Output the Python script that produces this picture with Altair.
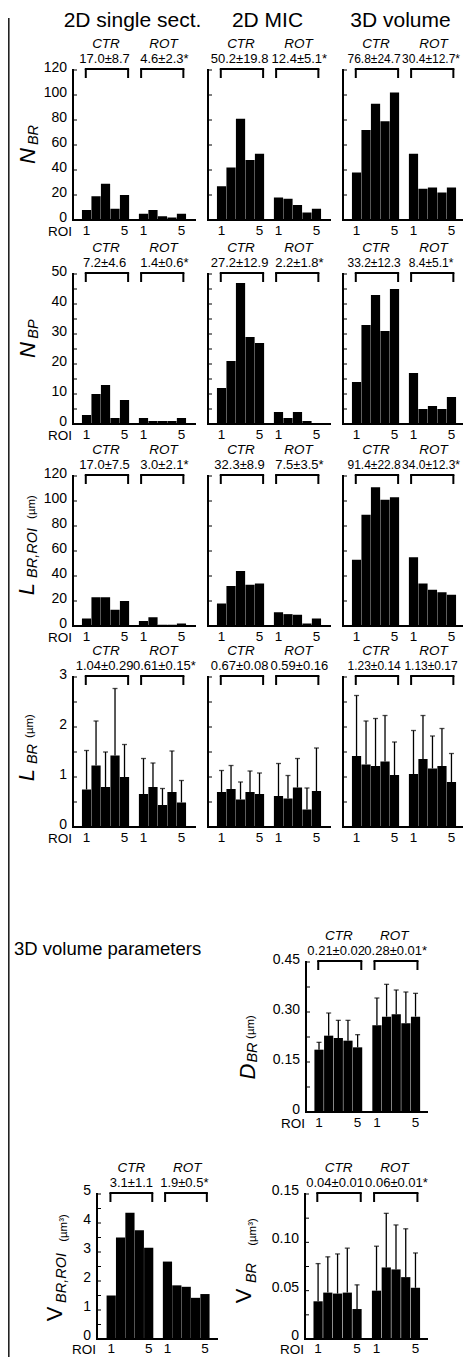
import altair as alt
import pandas as pd

FONT = "Liberation Sans"

# ------------------------------------------------------------------ data
col_titles = ["2D single sect.", "2D MIC", "3D volume"]
section_title = "3D volume parameters"
group_names = ["CTR", "ROT"]
roi_ctr = [1, 2, 3, 4, 5]
roi_rot = [7, 8, 9, 10, 11]          # ROT bars follow after one empty slot
roi_ticks = [1, 5, 7, 11]
roi_tick_labels = ["1", "5", "1", "5"]

# N_BR
nbr_2d_ctr = [8, 19, 29, 9, 20]
nbr_2d_rot = [5, 8, 3, 2, 5]
nbr_mic_ctr = [27, 42, 81, 48, 53]
nbr_mic_rot = [18, 17, 12, 6, 9]
nbr_3d_ctr = [38, 72, 93, 79, 102]
nbr_3d_rot = [53, 25, 26, 22, 26]
nbr_stats = [["17.0±8.7", "4.6±2.3*"], ["50.2±19.8", "12.4±5.1*"], ["76.8±24.7", "30.4±12.7*"]]

# N_BP
nbp_2d_ctr = [3, 10, 13, 2, 8]
nbp_2d_rot = [2, 1, 1, 1, 2]
nbp_mic_ctr = [12, 21, 47, 29, 27]
nbp_mic_rot = [4, 2, 4, 1, 0]
nbp_3d_ctr = [14, 33, 43, 31, 45]
nbp_3d_rot = [17, 5, 6, 5, 9]
nbp_stats = [["7.2±4.6", "1.4±0.6*"], ["27.2±12.9", "2.2±1.8*"], ["33.2±12.3", "8.4±5.1*"]]

# L_BR,ROI (um)
lroi_2d_ctr = [6, 23, 23, 13, 20]
lroi_2d_rot = [4, 7, 1, 1, 2]
lroi_mic_ctr = [18, 32, 44, 33, 34]
lroi_mic_rot = [11, 9.5, 9, 2, 6]
lroi_3d_ctr = [53, 89, 111, 101, 103]
lroi_3d_rot = [55, 34, 29, 27, 25]
lroi_stats = [["17.0±7.5", "3.0±2.1*"], ["32.3±8.9", "7.5±3.5*"], ["91.4±22.8", "34.0±12.3*"]]

# L_BR (um): mean and mean+SD
lbr_2d_ctr = [0.75, 1.23, 0.80, 1.43, 1.00]
lbr_2d_ctr_sd = [1.53, 2.12, 1.50, 2.77, 1.65]
lbr_2d_rot = [0.66, 0.80, 0.44, 0.70, 0.49]
lbr_2d_rot_sd = [1.37, 1.28, 0.77, 1.52, 0.93]
lbr_mic_ctr = [0.70, 0.76, 0.55, 0.70, 0.66]
lbr_mic_ctr_sd = [1.13, 1.23, 0.90, 1.12, 1.08]
lbr_mic_rot = [0.62, 0.57, 0.79, 0.35, 0.72]
lbr_mic_rot_sd = [1.27, 1.03, 1.37, 0.78, 1.58]
lbr_3d_ctr = [1.42, 1.25, 1.22, 1.31, 1.04]
lbr_3d_ctr_sd = [2.63, 2.12, 2.17, 2.23, 1.70]
lbr_3d_rot = [1.06, 1.36, 1.17, 1.22, 0.90]
lbr_3d_rot_sd = [1.93, 2.23, 1.82, 1.97, 1.47]
lbr_stats = [["1.04±0.29", "0.61±0.15*"], ["0.67±0.08", "0.59±0.16"], ["1.23±0.14", "1.13±0.17"]]

# D_BR (um)
dbr_ctr = [0.187, 0.229, 0.222, 0.214, 0.194]
dbr_ctr_sd = [0.209, 0.297, 0.275, 0.275, 0.232]
dbr_rot = [0.260, 0.286, 0.293, 0.266, 0.286]
dbr_rot_sd = [0.342, 0.383, 0.366, 0.360, 0.356]
dbr_stats = ["0.21±0.02", "0.28±0.01*"]

# V_BR,ROI (um3)
vroi_ctr = [1.5, 3.5, 4.35, 3.75, 3.15]
vroi_rot = [2.67, 1.85, 1.8, 1.42, 1.55]
vroi_stats = ["3.1±1.1", "1.9±0.5*"]

# V_BR (um3)
vbr_ctr = [0.039, 0.048, 0.047, 0.048, 0.031]
vbr_ctr_sd = [0.078, 0.085, 0.088, 0.094, 0.056]
vbr_rot = [0.050, 0.074, 0.072, 0.064, 0.053]
vbr_rot_sd = [0.096, 0.130, 0.118, 0.114, 0.089]
vbr_stats = ["0.04±0.01", "0.06±0.01*"]

# y-axis labels and tick marks
lab_120 = [0, 20, 40, 60, 80, 100, 120]
lab_120_txt = ["0", "20", "40", "60", "80", "100", "120"]
tick_120 = [0, 20, 40, 60, 80, 100, 120]
lab_50 = [0, 10, 20, 30, 40, 50]
lab_50_txt = ["0", "10", "20", "30", "40", "50"]
tick_50 = [0, 5, 10, 15, 20, 25, 30, 35, 40, 45, 50]
lab_3 = [0, 1, 2, 3]
lab_3_txt = ["0", "1", "2", "3"]
tick_3 = [0, 0.5, 1, 1.5, 2, 2.5, 3]
lab_045 = [0, 0.15, 0.30, 0.45]
lab_045_txt = ["0", "0.15", "0.30", "0.45"]
tick_045 = [0, 0.075, 0.15, 0.225, 0.30, 0.375, 0.45]
lab_5 = [0, 1, 2, 3, 4, 5]
lab_5_txt = ["0", "1", "2", "3", "4", "5"]
tick_5 = [0, 0.5, 1, 1.5, 2, 2.5, 3, 3.5, 4, 4.5, 5]
lab_015 = [0, 0.05, 0.10, 0.15]
lab_015_txt = ["0", "0.05", "0.10", "0.15"]
tick_015 = [0, 0.025, 0.05, 0.075, 0.10, 0.125, 0.15]

# ------------------------------------------------------------------ layout
M = 8                      # page margin: group coords = picture coords - 8
W_ALL, H_ALL = 455, 1349   # keeps the page inside the 471x1365 window
BR_CTR = [0.92, 5.38]
BR_ROT = [6.75, 11.2]
FS = 14


def panel(ctr, rot, ctr_sd, rot_sd, stats, left, top, w, h, xdom,
          ymax, ylab, ylab_txt, ytick, show_lab, show_roi,
          name_x=(3.05, 9.1), stat_x=(2.9, 9.2), stat_fs=13,
          xlab_gap=11, roi_gap=11.5, lab_dy=-2.5):
    gx, gt = left - M, top - M
    gb = gt + h
    xs = alt.Scale(domain=xdom, range=[gx, gx + w], nice=False, zero=False)
    ys = alt.Scale(domain=[0, ymax], range=[gb, gt], nice=False, zero=False)
    d = {"pos": roi_ctr + roi_rot, "v": ctr + rot}
    if ctr_sd is not None:
        d["e"] = ctr_sd + rot_sd
    df = pd.DataFrame(d)

    layers = [
        alt.Chart(df).mark_bar(color="black", size=9.2, orient="vertical").encode(
            x=alt.X("pos:Q", scale=xs, axis=None),
            y=alt.Y("v:Q", scale=ys, axis=None),
            y2=alt.datum(0),
        )
    ]
    if ctr_sd is not None:
        layers.append(alt.Chart(df).mark_rule(color="black", strokeWidth=1.3).encode(
            x=alt.X("pos:Q", scale=xs, axis=None),
            y=alt.Y("v:Q", scale=ys, axis=None), y2="e:Q"))
        layers.append(alt.Chart(df).mark_tick(color="black", orient="horizontal",
                                              size=5, thickness=1.3).encode(
            x=alt.X("pos:Q", scale=xs, axis=None),
            y=alt.Y("e:Q", scale=ys, axis=None)))
    # axis lines
    one = pd.DataFrame({"k": [0]})
    layers.append(alt.Chart(one).mark_rule(color="black", strokeWidth=2, strokeCap="square").encode(
        x=alt.value(gx), y=alt.value(gt), y2=alt.value(gb)))
    layers.append(alt.Chart(one).mark_rule(color="black", strokeWidth=2, strokeCap="square").encode(
        x=alt.value(gx), x2=alt.value(gx + w), y=alt.value(gb)))
    # inward y ticks
    layers.append(alt.Chart(pd.DataFrame({"t": ytick})).mark_rule(color="black", strokeWidth=1).encode(
        y=alt.Y("t:Q", scale=ys, axis=None), x=alt.value(gx), x2=alt.value(gx + 4)))
    # y tick labels
    if show_lab:
        layers.append(alt.Chart(pd.DataFrame({"t": ylab, "s": ylab_txt})).mark_text(
            font=FONT, fontSize=FS, align="right", baseline="middle", dy=lab_dy,
            color="black").encode(
            y=alt.Y("t:Q", scale=ys, axis=None), x=alt.value(gx - 6), text="s:N"))
    # x tick labels
    layers.append(alt.Chart(pd.DataFrame({"p": roi_ticks, "s": roi_tick_labels})).mark_text(
        font=FONT, fontSize=13.5, baseline="middle", color="black").encode(
        x=alt.X("p:Q", scale=xs, axis=None), y=alt.value(gb + xlab_gap), text="s:N"))
    # brackets
    bdf = pd.DataFrame({"b0": [BR_CTR[0], BR_ROT[0]], "b1": [BR_CTR[1], BR_ROT[1]]})
    layers.append(alt.Chart(bdf).mark_rule(color="black", strokeWidth=2, strokeCap="square").encode(
        x=alt.X("b0:Q", scale=xs, axis=None), x2="b1:Q", y=alt.value(gt - 1)))
    edf = pd.DataFrame({"bx": BR_CTR + BR_ROT})
    layers.append(alt.Chart(edf).mark_rule(color="black", strokeWidth=2).encode(
        x=alt.X("bx:Q", scale=xs, axis=None), y=alt.value(gt - 1), y2=alt.value(gt + 8)))
    tdf = pd.DataFrame({"nx": list(name_x), "sx": list(stat_x), "grp": group_names,
                        "stat": list(stats)})
    layers.append(alt.Chart(tdf).mark_text(font=FONT, fontSize=13.5, fontStyle="italic",
                                           color="black").encode(
        x=alt.X("nx:Q", scale=xs, axis=None), y=alt.value(gt - 26), text="grp:N"))
    layers.append(alt.Chart(tdf).mark_text(font=FONT, fontSize=stat_fs, color="black").encode(
        x=alt.X("sx:Q", scale=xs, axis=None), y=alt.value(gt - 11), text="stat:N"))
    if show_roi:
        layers.append(alt.Chart(pd.DataFrame({"s": ["ROI"]})).mark_text(
            font=FONT, fontSize=13.5, align="right", baseline="middle", color="black").encode(
            x=alt.value(gx - 1), y=alt.value(gb + roi_gap), text="s:N"))
    return alt.layer(*layers)


def ytitle(pieces):
    out = []
    for txt, x, y, size, italic in pieces:
        mk = dict(font=FONT, fontSize=size, angle=270, align="center", baseline="middle",
                  color="black")
        if italic:
            mk["fontStyle"] = "italic"
        out.append(alt.Chart(pd.DataFrame({"s": [txt]})).mark_text(**mk).encode(
            x=alt.value(x - M), y=alt.value(y - M), text="s:N"))
    return out


LEFTS = [73, 208, 343]
TOPS = [70, 274, 476, 677]
PW, PH = 122, 150
XDOM_TOP = [0.1, 11.9]
XDOM_BOT = [0.17, 11.67]
COL_STAT_X = [(2.9, 9.2), (2.9, 9.2), (2.85, 8.85)]
COL_STAT_FS = [13, 13, 12]

rows = [
    ([(nbr_2d_ctr, nbr_2d_rot, None, None), (nbr_mic_ctr, nbr_mic_rot, None, None),
      (nbr_3d_ctr, nbr_3d_rot, None, None)], nbr_stats, 120, lab_120, lab_120_txt, tick_120),
    ([(nbp_2d_ctr, nbp_2d_rot, None, None), (nbp_mic_ctr, nbp_mic_rot, None, None),
      (nbp_3d_ctr, nbp_3d_rot, None, None)], nbp_stats, 50, lab_50, lab_50_txt, tick_50),
    ([(lroi_2d_ctr, lroi_2d_rot, None, None), (lroi_mic_ctr, lroi_mic_rot, None, None),
      (lroi_3d_ctr, lroi_3d_rot, None, None)], lroi_stats, 120, lab_120, lab_120_txt, tick_120),
    ([(lbr_2d_ctr, lbr_2d_rot, lbr_2d_ctr_sd, lbr_2d_rot_sd),
      (lbr_mic_ctr, lbr_mic_rot, lbr_mic_ctr_sd, lbr_mic_rot_sd),
      (lbr_3d_ctr, lbr_3d_rot, lbr_3d_ctr_sd, lbr_3d_rot_sd)], lbr_stats, 3, lab_3, lab_3_txt, tick_3),
]

layers = []
for r, (cols, stats, ymax, ylab, ylab_txt, ytick) in enumerate(rows):
    for c, (a, b, ea, eb) in enumerate(cols):
        layers.append(panel(a, b, ea, eb, stats[c], LEFTS[c], TOPS[r], PW, PH, XDOM_TOP,
                            ymax, ylab, ylab_txt, ytick, c == 0, c == 0,
                            stat_x=COL_STAT_X[c], stat_fs=COL_STAT_FS[c]))

layers.append(panel(dbr_ctr, dbr_rot, dbr_ctr_sd, dbr_rot_sd, dbr_stats, 306, 962, 121, 150,
                    XDOM_BOT, 0.45, lab_045, lab_045_txt, tick_045, True, True,
                    name_x=(3.07, 8.8), stat_x=(2.78, 8.95)))
layers.append(panel(vroi_ctr, vroi_rot, None, None, vroi_stats, 97, 1194, 120, 145,
                    [0.02, 11.75], 5, lab_5, lab_5_txt, tick_5, True, True,
                    name_x=(3.15, 9.1), stat_x=(3.15, 8.8),
                    xlab_gap=10, roi_gap=10.5, lab_dy=-3))
layers.append(panel(vbr_ctr, vbr_rot, vbr_ctr_sd, vbr_rot_sd, vbr_stats, 305, 1194, 122, 145,
                    XDOM_BOT, 0.15, lab_015, lab_015_txt, tick_015, True, True,
                    name_x=(3.1, 8.85), stat_x=(2.75, 9.05),
                    xlab_gap=10, roi_gap=10.5, lab_dy=-3))

# y titles (letter, subscript, unit)
layers += ytitle([("N", 27.5, 156, 22, True), ("BR", 33.5, 135, 14.5, True)])
layers += ytitle([("N", 27.5, 350, 22, True), ("BP", 34, 329, 14.5, True)])
layers += ytitle([("L", 27, 589, 22, True), ("BR,ROI", 33, 553, 14.5, True), ("(µm)", 32, 507, 11.5, False)])
layers += ytitle([("L", 27, 775, 22, True), ("BR", 33, 754, 14.5, True), ("(µm)", 30, 726, 11.5, False)])
layers += ytitle([("D", 247.5, 1071.5, 22, True), ("BR", 253, 1052.5, 14.5, True), ("(µm)", 251, 1027, 11.5, False)])
layers += ytitle([("V", 55, 1314, 22, False), ("BR,ROI", 61.5, 1278, 14.5, True), ("(µm³)", 63.5, 1228, 11.5, False)])
layers += ytitle([("V", 243.5, 1296, 22, False), ("BR", 251.5, 1273, 14.5, True), ("(µm³)", 253, 1232, 11.5, False)])

# column titles
title_x = [132.5, 267.5, 400.5]
for i, t in enumerate(col_titles):
    layers.append(alt.Chart(pd.DataFrame({"s": [t]})).mark_text(
        font=FONT, fontSize=21, baseline="alphabetic", color="black").encode(
        x=alt.value(title_x[i] - M), y=alt.value(19), text="s:N"))
layers.append(alt.Chart(pd.DataFrame({"s": [section_title]})).mark_text(
    font=FONT, fontSize=18.5, baseline="alphabetic", align="left", color="black").encode(
    x=alt.value(14 - M), y=alt.value(955 - M), text="s:N"))
# left border line
layers.append(alt.Chart(pd.DataFrame({"s": [0]})).mark_rule(color="#222222", strokeWidth=1.6).encode(
    x=alt.value(0.8), y=alt.value(18 - M), y2=alt.value(H_ALL)))

chart = alt.layer(*layers).resolve_scale(x="independent", y="independent").properties(
    width=W_ALL, height=H_ALL, autosize=alt.AutoSizeParams(type="none"), padding=0
).configure_view(stroke=None)

chart.save("out.html", embed_options={"renderer": "svg", "actions": False})
